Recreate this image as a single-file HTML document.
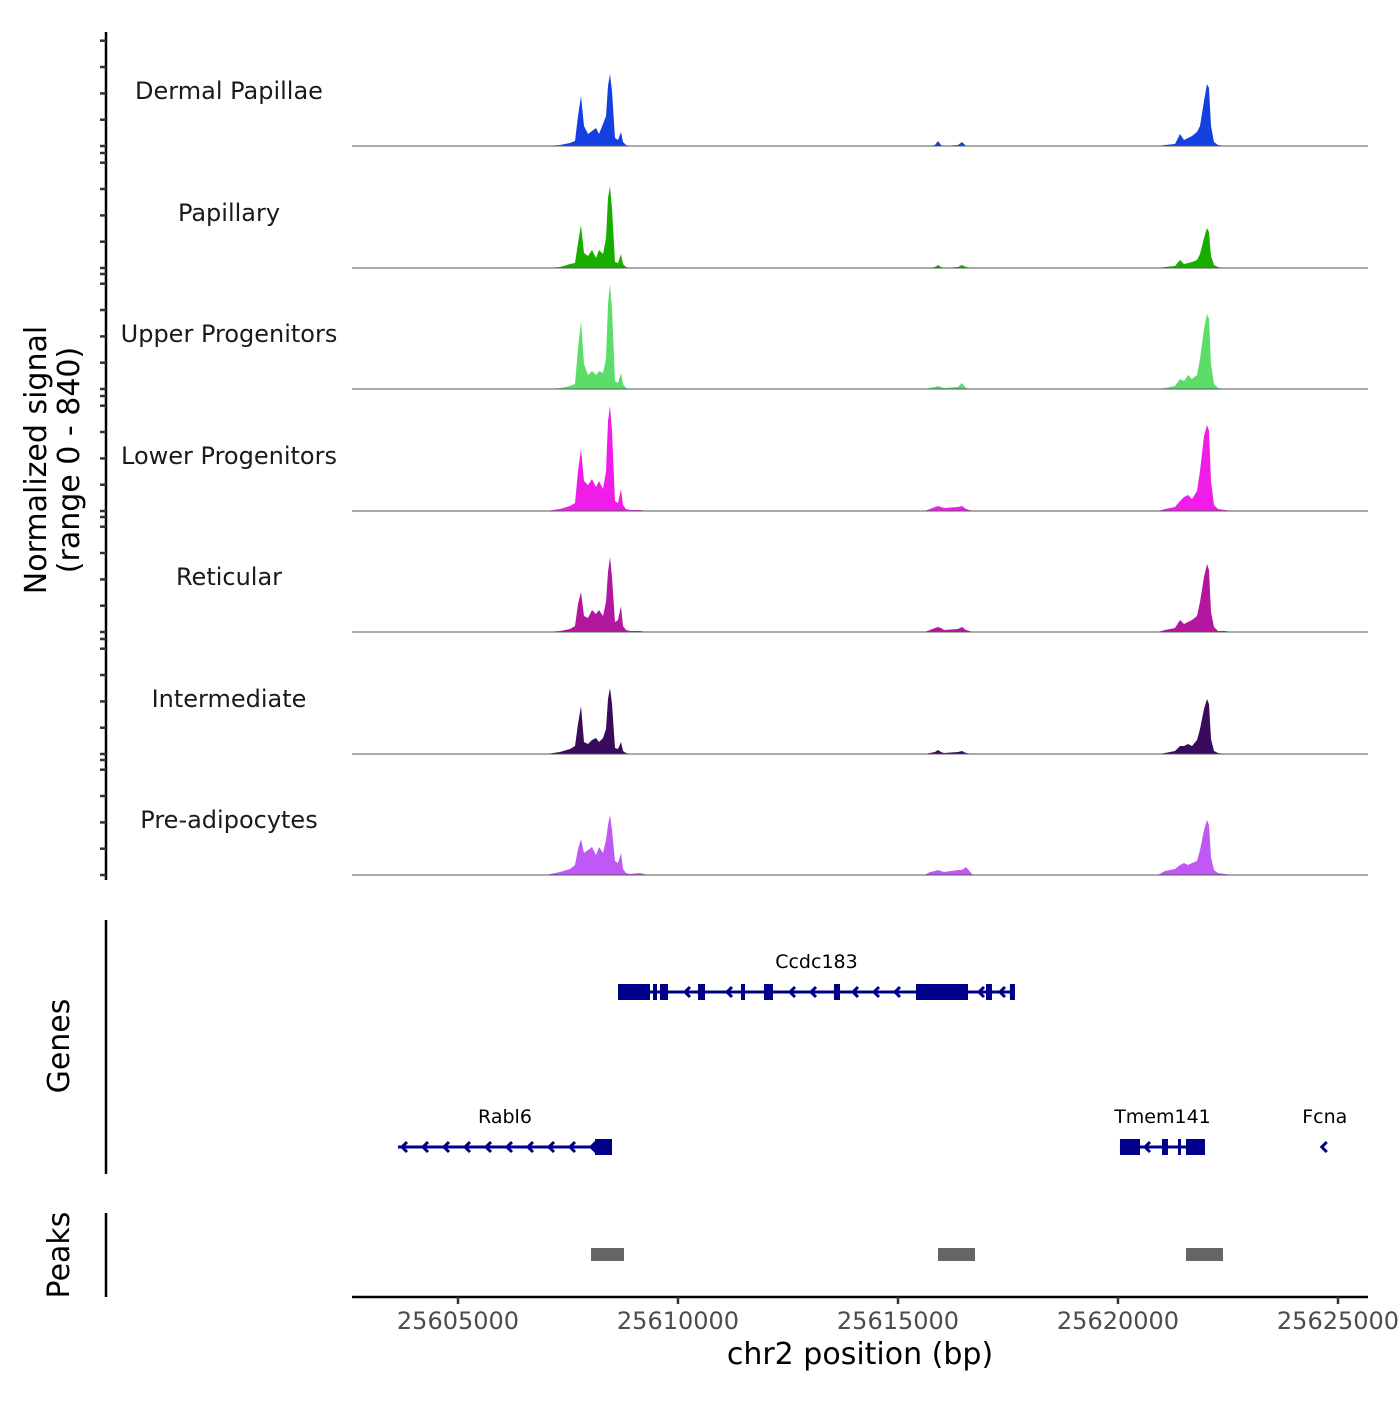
<!DOCTYPE html>
<html><head><meta charset="utf-8"><style>
html,body{margin:0;padding:0;background:#fff}
svg text{font-family:"DejaVu Sans","Liberation Sans",sans-serif}
</style></head><body>
<svg id="chart" width="1400" height="1400" xmlns="http://www.w3.org/2000/svg">
<g id="tracks"></g>
<g id="genes"></g>
<g id="peaks"></g>
<g id="axes"></g>
</svg>
<script>
const trackNames = ["Dermal Papillae","Papillary","Upper Progenitors","Lower Progenitors","Reticular","Intermediate","Pre-adipocytes"];
const trackColors = ["#1540e0","#19ad00","#5cdd6a","#f01de8","#b3169f","#3a0a5c","#c058f5"];
const positions = [25602591,25607000,25607318,25607546,25607659,25607727,25607796,25607864,25607955,25608046,25608136,25608205,25608296,25608364,25608409,25608455,25608500,25608568,25608636,25608705,25608750,25608818,25608909,25609136,25609300,25615600,25615727,25615841,25615909,25615977,25616046,25616364,25616455,25616546,25616700,25620900,25621068,25621296,25621409,25621500,25621591,25621682,25621796,25621864,25621955,25622023,25622068,25622114,25622182,25622273,25622432,25622600,25625682];
const sigDermal = [0,0,7,21,35,210,350,140,84,105,126,84,154,210,420,504,385,56,42,98,28,7,0,0,0,0,0,7,35,7,0,7,28,0,0,0,7,14,84,42,56,70,98,140,315,434,406,140,28,7,0,0,0];
const sigPapillary = [0,0,7,28,35,175,301,105,84,126,70,126,98,210,490,574,420,42,35,98,28,7,0,0,0,0,0,7,21,7,0,7,21,7,0,0,7,14,56,28,35,42,56,98,210,280,252,84,21,7,0,0,0];
const sigUpper = [0,0,7,21,35,280,476,175,98,126,98,126,112,210,595,735,560,56,42,112,35,7,0,0,0,0,7,14,21,14,7,14,42,7,0,0,7,21,70,56,98,70,98,210,420,525,490,175,35,7,0,0,0];
const sigLower = [0,0,14,35,56,280,434,210,182,224,168,210,154,280,630,735,560,70,56,154,42,14,7,7,0,0,14,28,35,28,21,28,35,14,0,0,14,28,70,98,112,84,140,280,525,602,560,210,42,14,7,0,0];
const sigReticular = [0,0,7,21,42,196,280,112,98,154,126,154,112,210,420,525,385,70,84,182,42,14,7,7,0,0,14,28,35,28,14,21,35,14,0,0,14,28,84,56,70,84,112,210,385,476,434,140,35,7,7,0,0];
const sigIntermediate = [0,0,14,35,56,210,336,84,70,98,112,84,112,175,385,462,350,42,35,84,21,7,0,0,0,0,7,14,28,14,7,14,21,7,0,0,7,21,56,56,70,56,98,175,315,385,350,105,21,7,0,0,0];
const sigPreadipo = [0,0,21,42,70,182,252,154,175,196,140,196,154,245,350,420,315,98,84,154,42,14,7,14,0,0,21,28,35,28,21,35,35,56,0,0,28,42,70,84,70,84,98,175,315,385,350,126,35,14,7,0,0];
const signals = [sigDermal,sigPapillary,sigUpper,sigLower,sigReticular,sigIntermediate,sigPreadipo];
const xTicks = [25605000,25610000,25615000,25620000,25625000];
const geneNames = ["Ccdc183","Rabl6","Tmem141","Fcna"];
const geneStarts = [25608636,25603636,25620045,25624650];
const geneEnds = [25617659,25608500,25621977,25624750];
const geneRows = [0,1,1,1];
const geneExons = [
 [[25608636,25609364],[25609432,25609523],[25609591,25609773],[25610455,25610614],[25611432,25611523],[25611955,25612159],[25613545,25613682],[25615409,25616591],[25617000,25617136],[25617545,25617659]],
 [[25608114,25608500]],
 [[25620045,25620500],[25621000,25621136],[25621364,25621432],[25621545,25621977]],
 []
];
const peakStarts = [25608023,25615909,25621545];
const peakEnds = [25608773,25616750,25622386];

const NS="http://www.w3.org/2000/svg";
const X0=352,X1=1368,D0=25602591,D1=25625682;
function xs(bp){return X0+(bp-D0)/(D1-D0)*(X1-X0);}
const baselines=[146,268,389,511,632,754,875];
function ys(v,b){return b - v/840*120;}
function mk(tag,attrs,parent){const e=document.createElementNS(NS,tag);for(const k in attrs)e.setAttribute(k,attrs[k]);parent.appendChild(e);return e;}

const tracks=document.getElementById('tracks');
signals.forEach((s,i)=>{
  const b=baselines[i];
  let d='M'+xs(positions[0])+','+b;
  positions.forEach((p,j)=>{d+=' L'+xs(p).toFixed(1)+','+ys(s[j],b).toFixed(1);});
  d+=' L'+xs(positions[positions.length-1])+','+b+' Z';
  const a=mk('path',{d:d,fill:trackColors[i],stroke:'none'},tracks);
  
  
  const l=mk('line',{x1:X0,x2:X1,y1:b,y2:b,stroke:'#555','stroke-width':1},tracks);
  
  
  const t=mk('text',{x:229,y:b-47,'font-size':24,'text-anchor':'middle',fill:'#1a1a1a'},tracks);
  t.textContent=trackNames[i];
  
  
});

const axes=document.getElementById('axes');
mk('line',{x1:106,x2:106,y1:32,y2:880,stroke:'#000','stroke-width':2.5},axes);
baselines.forEach((b,i)=>{
  [0,26.3,52.6,79,105.3,115].forEach((o,k)=>{
    if(i===0&&k===5)return;
    const tk=mk('line',{x1:100,x2:106,y1:b-o,y2:b-o,stroke:'#333','stroke-width':2.5},axes);
    
    
  });
});
const yt=mk('text',{transform:'translate(52,460) rotate(-90)','font-size':30,'text-anchor':'middle',fill:'#000'},axes);


yt.innerHTML='<tspan x="0" dy="-6">Normalized signal</tspan><tspan x="0" dy="33">(range 0 - 840)</tspan>';
mk('line',{x1:106,x2:106,y1:920,y2:1174,stroke:'#000','stroke-width':2.5},axes);
mk('line',{x1:106,x2:106,y1:1213,y2:1297,stroke:'#000','stroke-width':2.5},axes);
const gt=mk('text',{transform:'translate(69,1046) rotate(-90)','font-size':30,'text-anchor':'middle',fill:'#000'},axes);
gt.textContent='Genes';


const pt=mk('text',{transform:'translate(69,1255) rotate(-90)','font-size':30,'text-anchor':'middle',fill:'#000'},axes);
pt.textContent='Peaks';


mk('line',{x1:X0,x2:X1,y1:1297,y2:1297,stroke:'#000','stroke-width':2.5},axes);
xTicks.forEach(v=>{
  const tk=mk('line',{x1:xs(v),x2:xs(v),y1:1297,y2:1304,stroke:'#333','stroke-width':2.5},axes);
  
  
  const tl=mk('text',{x:xs(v),y:1329,'font-size':24,'text-anchor':'middle',fill:'#4d4d4d'},axes);
  tl.textContent=v;
  
  
});
const xt=mk('text',{x:860,y:1364,'font-size':30,'text-anchor':'middle',fill:'#000'},axes);
xt.textContent='chr2 position (bp)';



const genes=document.getElementById('genes');
const rowY=[992,1147];
geneNames.forEach((g,i)=>{
  const y=rowY[geneRows[i]];
  const x1=xs(geneStarts[i]),x2=xs(geneEnds[i]);
  const grp=mk('g',{},genes);
  
  
  if(geneExons[i].length){mk('line',{x1:x1,x2:x2,y1:y,y2:y,stroke:'#00008b','stroke-width':3},grp);}
  geneExons[i].forEach(e=>{mk('rect',{x:xs(e[0]),y:y-8,width:Math.max(3,xs(e[1])-xs(e[0])),height:16,fill:'#00008b'},grp);});
  let ax=[];
  if(geneExons[i].length){for(let x=x1+4;x<x2-6;x+=21){if(!geneExons[i].some(e=>x>=xs(e[0])-4&&x<=xs(e[1])+4))ax.push(x);}}
  else ax.push((x1+x2)/2-3);
  ax.forEach(x=>{mk('path',{d:'M'+(x+5)+','+(y-5)+' L'+x+','+y+' L'+(x+5)+','+(y+5),fill:'none',stroke:'#00008b','stroke-width':3},grp);});
  const t=mk('text',{x:(x1+x2)/2,y:y-24,'font-size':19,'text-anchor':'middle',fill:'#000'},grp);
  t.textContent=g;
  
  
});

const peaks=document.getElementById('peaks');
peakStarts.forEach((s,i)=>{
  const r=mk('rect',{x:xs(s),y:1248,width:xs(peakEnds[i])-xs(s),height:13,fill:'#666'},peaks);
  
  
});
</script>
</body></html>
